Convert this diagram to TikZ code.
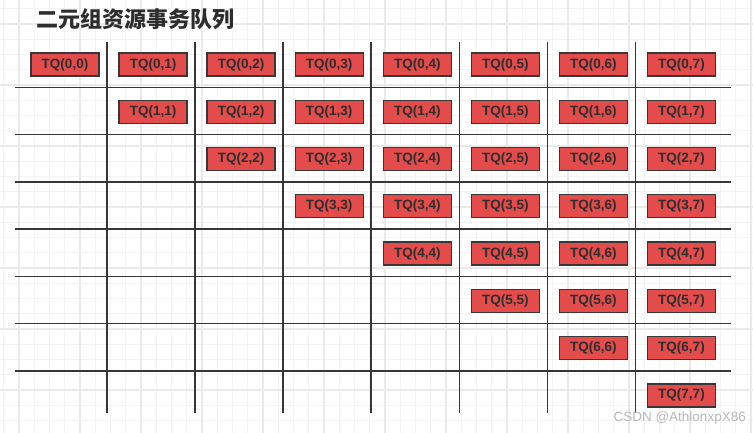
\documentclass[tikz,border=0pt]{standalone}
\usepackage{fontspec}
\setmainfont{Liberation Sans}
\newfontfamily\cjkfont{Noto Sans CJK SC}
\definecolor{boxred}{RGB}{228,76,76}
\definecolor{linegray}{RGB}{55,55,55}
\definecolor{txtgray}{RGB}{45,45,45}
\definecolor{gridminor}{RGB}{244,244,244}
\definecolor{gridmajor}{RGB}{234,234,234}
\definecolor{wmgray}{RGB}{185,185,185}
\tikzset{
  tqbox/.style={draw=linegray, line width=1.3pt, fill=boxred, minimum width=68pt, minimum height=23pt, inner sep=0pt,
    font=\fontsize{13.5}{14}\selectfont\bfseries, text=txtgray},
  sepline/.style={draw=linegray, line width=1.5pt},
  minorgrid/.style={draw=gridminor, line width=0.9pt},
  majorgrid/.style={draw=gridmajor, line width=1.1pt}
}
\begin{document}
\begin{tikzpicture}[x=1pt,y=-1pt]
\useasboundingbox (0,0) rectangle (753,433);
\fill[white] (0,0) rectangle (753,433);
% background grid
\foreach \k in {0,...,49} { \draw[minorgrid] ({3.75+\k*15.25},0) -- ({3.75+\k*15.25},433); }
\foreach \k in {0,...,27} { \draw[minorgrid] (0,{8.75+\k*15.25}) -- (753,{8.75+\k*15.25}); }
\foreach \k in {0,...,12} { \draw[majorgrid] ({19+\k*61},0) -- ({19+\k*61},433); }
\foreach \k in {0,...,6} { \draw[majorgrid] (0,{390-\k*61}) -- (753,{390-\k*61}); }
% title
\node[anchor=west, inner sep=0pt, text=txtgray, font=\cjkfont\bfseries\fontsize{22}{24}\selectfont] (title) at (36,19) {二元组资源事务队列};
% separator lines
\foreach \k in {0,...,6} {
  \draw[sepline] ({107+\k*88.07},42) -- ({107+\k*88.07},413);
  \draw[sepline] (14.7,{87.3+\k*47.25}) -- (731,{87.3+\k*47.25});
}
% boxes
\foreach \i in {0,...,7} {
  \foreach \j in {\i,...,7} {
    \node[tqbox] (b\i\j) at ({65+\j*88.07},{64.6+\i*47.25}) {TQ(\i,\j)};
  }
}
% watermark
\node[anchor=east, inner sep=0pt, text=wmgray, font=\fontsize{13.5}{14}\selectfont] (wm) at (746,418) {CSDN @AthlonxpX86};
\end{tikzpicture}
\end{document}
